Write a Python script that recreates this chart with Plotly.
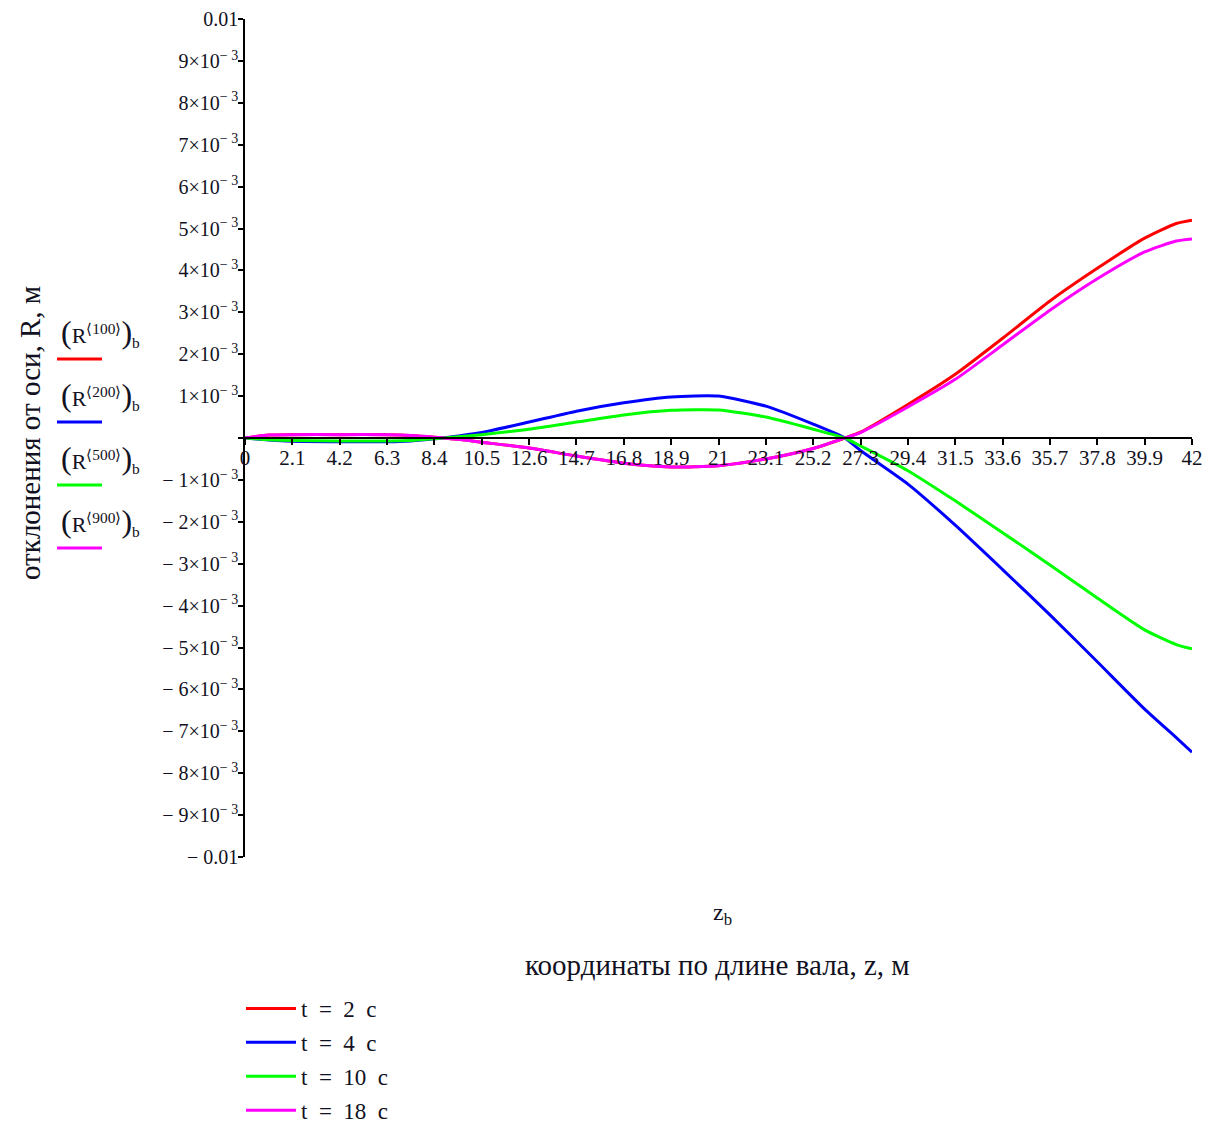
import plotly.graph_objects as go

# ---------------- data ----------------
z = [0, 1.05, 2.1, 4.2, 6.3, 7.35, 8.4, 9.45, 10.5, 12.6, 14.7, 16.8, 18.9, 21,
     23.1, 25.2, 26.6, 27.3, 29.4, 31.5, 33.6, 35.7, 37.8, 39.9, 41.3, 42]

r_t2 = [0, 0.07, 0.08, 0.08, 0.08, 0.06, 0.02, -0.03, -0.10, -0.24, -0.43, -0.60,
        -0.69, -0.66, -0.50, -0.25, 0.0, 0.14, 0.80, 1.52, 2.38, 3.27, 4.05, 4.77,
        5.12, 5.20]
r_t4 = [0, -0.05, -0.08, -0.09, -0.09, -0.07, -0.02, 0.05, 0.13, 0.38, 0.64, 0.84,
        0.98, 1.00, 0.76, 0.33, 0.0, -0.30, -1.10, -2.08, -3.14, -4.22, -5.34,
        -6.47, -7.15, -7.50]
r_t10 = [0, -0.04, -0.06, -0.07, -0.07, -0.06, -0.02, 0.03, 0.08, 0.21, 0.38,
         0.55, 0.66, 0.67, 0.50, 0.21, 0.0, -0.19, -0.78, -1.50, -2.26, -3.03,
         -3.82, -4.58, -4.93, -5.03]
r_t18 = [0, 0.07, 0.08, 0.08, 0.08, 0.06, 0.02, -0.03, -0.10, -0.24, -0.43, -0.60,
         -0.69, -0.66, -0.50, -0.25, 0.0, 0.13, 0.74, 1.40, 2.22, 3.05, 3.80, 4.44,
         4.70, 4.75]
scale = 1e-3

series_names = ["t\u2002=\u20022\u2002с", "t\u2002=\u20024\u2002с",
                "t\u2002=\u200210\u2002с", "t\u2002=\u200218\u2002с"]
series_vals = [r_t2, r_t4, r_t10, r_t18]
series_colors = ["#ff0000", "#0000ff", "#00ff00", "#ff00ff"]
side_labels = ["100", "200", "500", "900"]

x_tickvals = [round(2.1 * i, 2) for i in range(21)]
x_ticktext = ["0" if v == 0 else ("%g" % v) for v in x_tickvals]

y_tickvals = [k * 1e-3 for k in range(-10, 11)]
def ylab(k):
    if k == 0:
        return ""
    if k == 10:
        return "0.01"
    if k == -10:
        return "− 0.01"
    s = "%d×10<sup>− 3</sup>" % abs(k)
    return s if k > 0 else "− " + s
y_ticktext = [ylab(k) for k in range(-10, 11)]

# ---------------- layout geometry (page pixels; page has an 8px body margin) ----
PAGE_OFF = 8
W, H = 1210 - 2 * PAGE_OFF, 1133 - 2 * PAGE_OFF
PL, PR, PT, PB = 245, 1192, 19, 857          # plot box in page pixels
L, T = PL - PAGE_OFF, PT - PAGE_OFF
pw, ph = PR - PL, PB - PT
R, B = W - L - pw, H - T - ph

def px(xp):
    return (xp - PL) / pw

def py(yp):
    return (PB - yp) / ph

FONT = "Liberation Serif"
TXT = "#111122"

fig = go.Figure()
for name, vals, col in zip(series_names, series_vals, series_colors):
    fig.add_trace(go.Scatter(
        x=z, y=[v * scale for v in vals], mode="lines", name=name,
        line=dict(color=col, width=3, shape="spline", smoothing=0.6),
        legendgroup=name,
    ))

fig.update_layout(
    width=W, height=H,
    margin=dict(l=L, r=R, t=T, b=B, autoexpand=False),
    paper_bgcolor="white", plot_bgcolor="white",
    font=dict(family=FONT, color=TXT, size=20),
    xaxis=dict(range=[0, 42], tickvals=x_tickvals, ticktext=x_ticktext,
               showgrid=False, zeroline=False, showline=True, linecolor="black",
               linewidth=1.5, ticks="outside", ticklen=6, tickcolor="black",
               tickwidth=1.5, anchor="free", position=0.5, automargin=False,
               ticklabelstandoff=-5, ticklabeloverflow="allow",
               tickfont=dict(family=FONT, size=21, color=TXT)),
    xaxis2=dict(range=[0, 42], tickvals=x_tickvals, overlaying="x",
                showgrid=False, zeroline=False, showline=False,
                showticklabels=False, ticks="inside", ticklen=6,
                tickcolor="black", tickwidth=1.5, anchor="free", position=0.5),
    yaxis=dict(range=[-0.01, 0.01], tickvals=y_tickvals, ticktext=y_ticktext,
               showgrid=False, zeroline=False, showline=True, linecolor="black",
               linewidth=1.5, ticks="outside", ticklen=5, tickcolor="black",
               tickwidth=1.5, automargin=False, ticklabelstandoff=-4,
               tickfont=dict(family=FONT, size=20, color=TXT)),
    yaxis2=dict(range=[-0.01, 0.01], tickvals=y_tickvals, overlaying="y",
                showgrid=False, zeroline=False, showline=False,
                showticklabels=False, ticks="inside", ticklen=5,
                tickcolor="black", tickwidth=1.5, anchor="x", side="left"),
    legend=dict(x=px(241), y=py(987), xanchor="left", yanchor="top",
                font=dict(family=FONT, size=23, color=TXT),
                itemwidth=50, tracegroupgap=1, bgcolor="rgba(0,0,0,0)"),
    showlegend=True,
)

annotations = [
    dict(text="отклонения от оси, R, м", x=px(30), y=py(433), xref="paper",
         yref="paper", textangle=-90, showarrow=False, xanchor="center",
         yanchor="middle", font=dict(family=FONT, size=29, color=TXT)),
    dict(text="z<sub>b</sub>", x=px(722), y=py(914), xref="paper", yref="paper",
         showarrow=False, xanchor="center", yanchor="middle",
         font=dict(family=FONT, size=24, color=TXT)),
    dict(text="координаты по длине вала, z, м", x=px(717), y=py(965),
         xref="paper", yref="paper", showarrow=False, xanchor="center",
         yanchor="middle", font=dict(family=FONT, size=29, color=TXT)),
]
shapes = []
for i, (lab, col) in enumerate(zip(side_labels, series_colors)):
    ty = 332 + i * 63
    annotations.append(dict(
        text=("<span style='font-size:32px'>(</span>R<sup>⟨%s⟩</sup>"
              "<span style='font-size:32px'>)</span><sub>b</sub>") % lab,
        x=px(100), y=py(ty), xanchor="center", yanchor="middle",
        xref="paper", yref="paper", showarrow=False,
        font=dict(family=FONT, size=22, color=TXT)))
    ly = 359 + i * 63
    shapes.append(dict(type="line", xref="paper", yref="paper",
                       x0=px(57), x1=px(102), y0=py(ly), y1=py(ly),
                       line=dict(color=col, width=3)))
fig.update_layout(annotations=annotations, shapes=shapes)

fig.write_html("out.html")
